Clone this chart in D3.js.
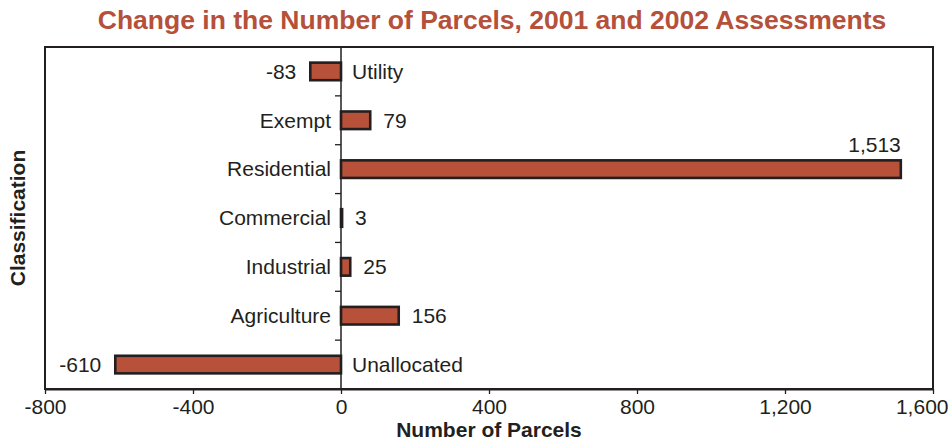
<!DOCTYPE html>
<html>
<head>
<meta charset="utf-8">
<script src="https://cdn.jsdelivr.net/npm/d3@7"></script>
<style>
  html, body { margin: 0; padding: 0; background: #fff; }
  svg { display: block; }
  text { font-family: "Liberation Sans", Arial, sans-serif; fill: #231F20; }
</style>
</head>
<body>
<svg id="chart" width="950" height="444"></svg>
<script>
const categories = ["Utility", "Exempt", "Residential", "Commercial", "Industrial", "Agriculture", "Unallocated"];
const values = [-83, 79, 1513, 3, 25, 156, -610];
const xTicks = [-800, -400, 0, 400, 800, 1200, 1600];
const title = "Change in the Number of Parcels, 2001 and 2002 Assessments";
const xTitle = "Number of Parcels";
const yTitle = "Classification";

const W = 950, H = 444;
const m = { left: 45, right: 17, top: 47, bottom: 55 };
const svg = d3.select("#chart");
const dark = "#231F20";
const barFill = "#B8513A";

const x = d3.scaleLinear().domain([-800, 1600]).range([m.left, W - m.right]);
const y = d3.scaleBand().domain(categories).range([m.top, H - m.bottom])
  .paddingInner(0.64).paddingOuter(0.32);

const locale = d3.formatLocale({ decimal: ".", thousands: ",", grouping: [3], currency: ["$", ""], minus: "-" });
const fmt = locale.format(",");
const data = categories.map((c, i) => ({ cat: c, val: values[i] }));

// Title
svg.append("text").attr("x", 492).attr("y", 29).attr("text-anchor", "middle")
  .style("font-size", "26.5px").style("font-weight", "bold").style("fill", "#B5503A")
  .text(title);

// Plot frame
svg.append("rect").attr("x", x(-800)).attr("y", m.top)
  .attr("width", x(1600) - x(-800)).attr("height", H - m.bottom - m.top)
  .attr("fill", "none").attr("stroke", dark).attr("stroke-width", 2);

// Bars
svg.append("g").selectAll("rect").data(data).join("rect")
  .attr("x", d => Math.min(x(0), x(d.val)))
  .attr("y", d => y(d.cat))
  .attr("width", d => Math.abs(x(d.val) - x(0)))
  .attr("height", y.bandwidth())
  .attr("fill", barFill).attr("stroke", dark).attr("stroke-width", 2.6);

// Zero line
svg.append("line").attr("x1", x(0)).attr("x2", x(0))
  .attr("y1", m.top).attr("y2", H - m.bottom)
  .attr("stroke", dark).attr("stroke-width", 1.5);

// Category boundary ticks on zero line
const step = y.step();
const bounds = categories.slice(1).map(c => y(c) - y.paddingInner() * step / 2);
svg.append("g").selectAll("line").data(bounds).join("line")
  .attr("x1", x(0) - 6).attr("x2", x(0)).attr("y1", d => d).attr("y2", d => d)
  .attr("stroke", dark).attr("stroke-width", 1.3);

// Category labels (opposite side of bar)
svg.append("g").selectAll("text").data(data).join("text")
  .attr("x", d => d.val >= 0 ? x(0) - 10 : x(0) + 11)
  .attr("y", d => y(d.cat) + y.bandwidth() / 2)
  .attr("dy", "0.35em")
  .attr("text-anchor", d => d.val >= 0 ? "end" : "start")
  .style("font-size", "21px")
  .text(d => d.cat);

// Value labels
const xMaxRoom = x(1600) - 80;
svg.append("g").selectAll("text").data(data).join("text")
  .each(function(d) {
    const t = d3.select(this).style("font-size", "21px").text(fmt(d.val));
    if (d.val >= 0 && x(d.val) > xMaxRoom) {
      t.attr("x", x(d.val)).attr("y", y(d.cat) - 8).attr("text-anchor", "end");
    } else if (d.val >= 0) {
      t.attr("x", x(d.val) + 13).attr("y", y(d.cat) + y.bandwidth() / 2)
        .attr("dy", "0.35em").attr("text-anchor", "start");
    } else {
      t.attr("x", x(d.val) - 14).attr("y", y(d.cat) + y.bandwidth() / 2)
        .attr("dy", "0.35em").attr("text-anchor", "end");
    }
  });

// X axis
const xAxis = d3.axisBottom(x).tickValues(xTicks).tickFormat(fmt).tickSize(5).tickSizeOuter(0).tickPadding(5);
const gx = svg.append("g").attr("transform", `translate(0,${H - m.bottom})`).call(xAxis);
gx.select(".domain").attr("stroke", dark).attr("stroke-width", 2);
gx.selectAll(".tick line").attr("stroke", dark).attr("stroke-width", 1.3);
gx.selectAll(".tick text").style("font-size", "21px").style("font-family", "'Liberation Sans', Arial, sans-serif")
  .attr("fill", dark)
  .each(function(d) {
    const n = this.getComputedTextLength();
    const cx = x(d);
    if (cx + n / 2 > W - 2) {
      d3.select(this).attr("text-anchor", "end").attr("x", (W - 2) - cx);
    }
  });

// Axis titles
svg.append("text").attr("x", (x(-800) + x(1600)) / 2).attr("y", 437)
  .attr("text-anchor", "middle").style("font-size", "21px").style("font-weight", "bold")
  .text(xTitle);
svg.append("text").attr("transform", `translate(25,${(m.top + H - m.bottom) / 2}) rotate(-90)`)
  .attr("text-anchor", "middle").style("font-size", "21px").style("font-weight", "bold")
  .text(yTitle);
</script>
</body>
</html>
